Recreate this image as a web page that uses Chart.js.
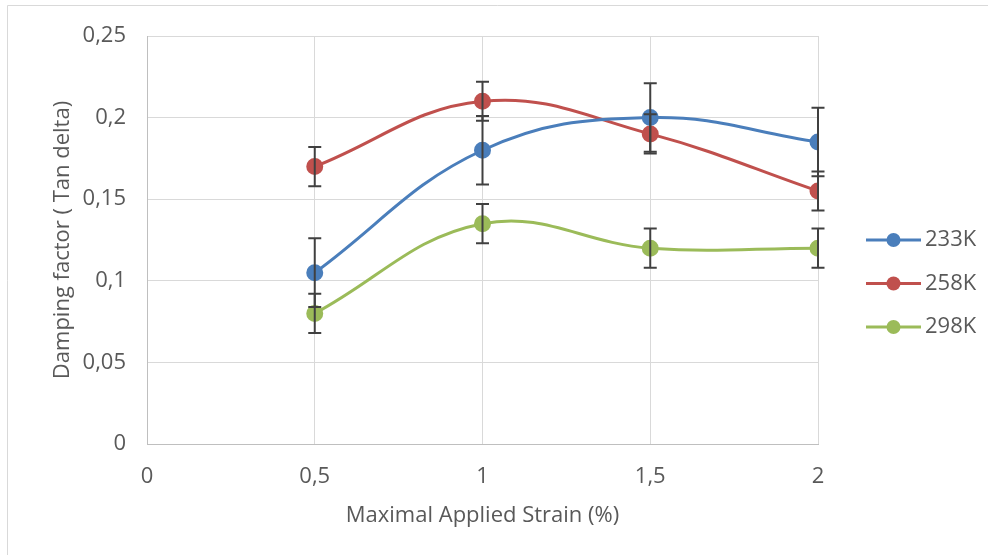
<!DOCTYPE html>
<html>
<head>
<meta charset="utf-8">
<script src="https://cdn.jsdelivr.net/npm/chart.js@4/dist/chart.umd.min.js"></script>
<style>
  html, body { margin: 0; padding: 0; background: #ffffff; }
  #wrap { width: 988px; height: 555px; position: relative; }
</style>
</head>
<body>
<div id="wrap"><canvas id="c"></canvas></div>
<script>
// ---- Data ----
const strains = [0.5, 1, 1.5, 2];
const seriesLabels = ['233K', '258K', '298K'];
const values233 = [0.105, 0.18, 0.20, 0.185];
const values258 = [0.17, 0.21, 0.19, 0.155];
const values298 = [0.08, 0.135, 0.12, 0.12];
const errors233 = [0.021, 0.021, 0.021, 0.021];
const errors258 = [0.012, 0.012, 0.012, 0.012];
const errors298 = [0.012, 0.012, 0.012, 0.012];
const xTicks = [0, 0.5, 1, 1.5, 2];
const yTicks = [0, 0.05, 0.1, 0.15, 0.2, 0.25];

const colors = ['#4a7ebb', '#c0504d', '#9bbb59'];
const FONT = '"Open Sans", Lato, sans-serif';
const FSIZE = 22;
const TXT = '#595959';

function fmt(v) { return String(Math.round(v * 1000) / 1000).replace('.', ','); }

function mk(label, vals, errs, color) {
  return {
    label: label,
    data: strains.map((x, i) => ({ x: x, y: vals[i] })),
    errors: errs,
    borderColor: color,
    backgroundColor: color,
    pointBackgroundColor: color,
    pointBorderColor: color,
    borderWidth: 3,
    pointRadius: 7,
    pointHoverRadius: 7,
    tension: 0.4,
    fill: false
  };
}

const frame = {
  id: 'frame',
  beforeDraw(chart) {
    const ctx = chart.ctx;
    ctx.save();
    ctx.fillStyle = '#ffffff';
    ctx.fillRect(0, 0, chart.width, chart.height);
    ctx.strokeStyle = '#d9d9d9';
    ctx.lineWidth = 1;
    ctx.beginPath();
    ctx.moveTo(7.5, chart.height);
    ctx.lineTo(7.5, 5.5);
    ctx.lineTo(chart.width, 5.5);
    ctx.stroke();
    ctx.restore();
  }
};

const errorBars = {
  id: 'errorBars',
  afterDatasetsDraw(chart) {
    const ctx = chart.ctx;
    const xs = chart.scales.x, ys = chart.scales.y;
    ctx.save();
    ctx.strokeStyle = '#404040';
    ctx.lineWidth = 2;
    chart.data.datasets.forEach(ds => {
      ds.data.forEach((p, i) => {
        const e = ds.errors[i];
        const px = xs.getPixelForValue(p.x);
        const top = ys.getPixelForValue(p.y + e);
        const bot = ys.getPixelForValue(p.y - e);
        ctx.beginPath();
        ctx.moveTo(px, top); ctx.lineTo(px, bot);
        ctx.moveTo(px - 6.5, top); ctx.lineTo(px + 6.5, top);
        ctx.moveTo(px - 6.5, bot); ctx.lineTo(px + 6.5, bot);
        ctx.stroke();
      });
    });
    ctx.restore();
  }
};

const legendPlug = {
  id: 'customLegend',
  afterDraw(chart) {
    const ctx = chart.ctx;
    const x0 = 866, lineLen = 55, y0 = 240, gap = 43.5;
    ctx.save();
    ctx.font = FSIZE + 'px ' + FONT;
    ctx.textBaseline = 'middle';
    ctx.textAlign = 'left';
    chart.data.datasets.forEach((ds, i) => {
      const y = y0 + i * gap;
      ctx.strokeStyle = ds.borderColor;
      ctx.lineWidth = 3;
      ctx.beginPath();
      ctx.moveTo(x0, y); ctx.lineTo(x0 + lineLen, y);
      ctx.stroke();
      ctx.fillStyle = ds.borderColor;
      ctx.beginPath();
      ctx.arc(x0 + lineLen / 2, y, 7, 0, Math.PI * 2);
      ctx.fill();
      ctx.fillStyle = TXT;
      ctx.fillText(ds.label, x0 + lineLen + 4, y);
    });
    ctx.restore();
  }
};

new Chart(document.getElementById('c'), {
  type: 'line',
  data: {
    datasets: [
      mk(seriesLabels[0], values233, errors233, colors[0]),
      mk(seriesLabels[1], values258, errors258, colors[1]),
      mk(seriesLabels[2], values298, errors298, colors[2])
    ]
  },
  options: {
    responsive: true,
    maintainAspectRatio: false,
    animation: false,
    events: [],
    layout: { padding: { left: 50, right: 170, top: 36, bottom: 26 } },
    plugins: {
      legend: { display: false },
      tooltip: { enabled: false }
    },
    scales: {
      x: {
        type: 'linear',
        min: 0, max: 2,
        afterBuildTicks(axis) { axis.ticks = xTicks.map(v => ({ value: v })); },
        afterFit(axis) { axis.height = 85; },
        ticks: {
          color: TXT,
          font: { family: FONT, size: FSIZE },
          padding: 20,
          maxRotation: 0,
          callback: v => fmt(v)
        },
        grid: { color: '#d9d9d9', lineWidth: 1, drawTicks: false },
        border: { color: '#bfbfbf', width: 1 },
        title: {
          display: true,
          text: 'Maximal Applied Strain (%)',
          color: TXT,
          font: { family: FONT, size: FSIZE },
          padding: { top: 11, bottom: 0 }
        }
      },
      y: {
        min: 0, max: 0.25,
        afterBuildTicks(axis) { axis.ticks = yTicks.map(v => ({ value: v })); },
        afterFit(axis) { axis.width = 97; },
        ticks: {
          color: TXT,
          font: { family: FONT, size: FSIZE },
          padding: 21,
          callback: v => fmt(v)
        },
        grid: { color: '#d9d9d9', lineWidth: 1, drawTicks: false },
        border: { color: '#bfbfbf', width: 1 },
        title: {
          display: true,
          text: 'Damping factor ( Tan delta)',
          color: TXT,
          font: { family: FONT, size: FSIZE },
          padding: { top: 0, bottom: 6 }
        }
      }
    }
  },
  plugins: [frame, errorBars, legendPlug]
});
</script>
</body>
</html>
